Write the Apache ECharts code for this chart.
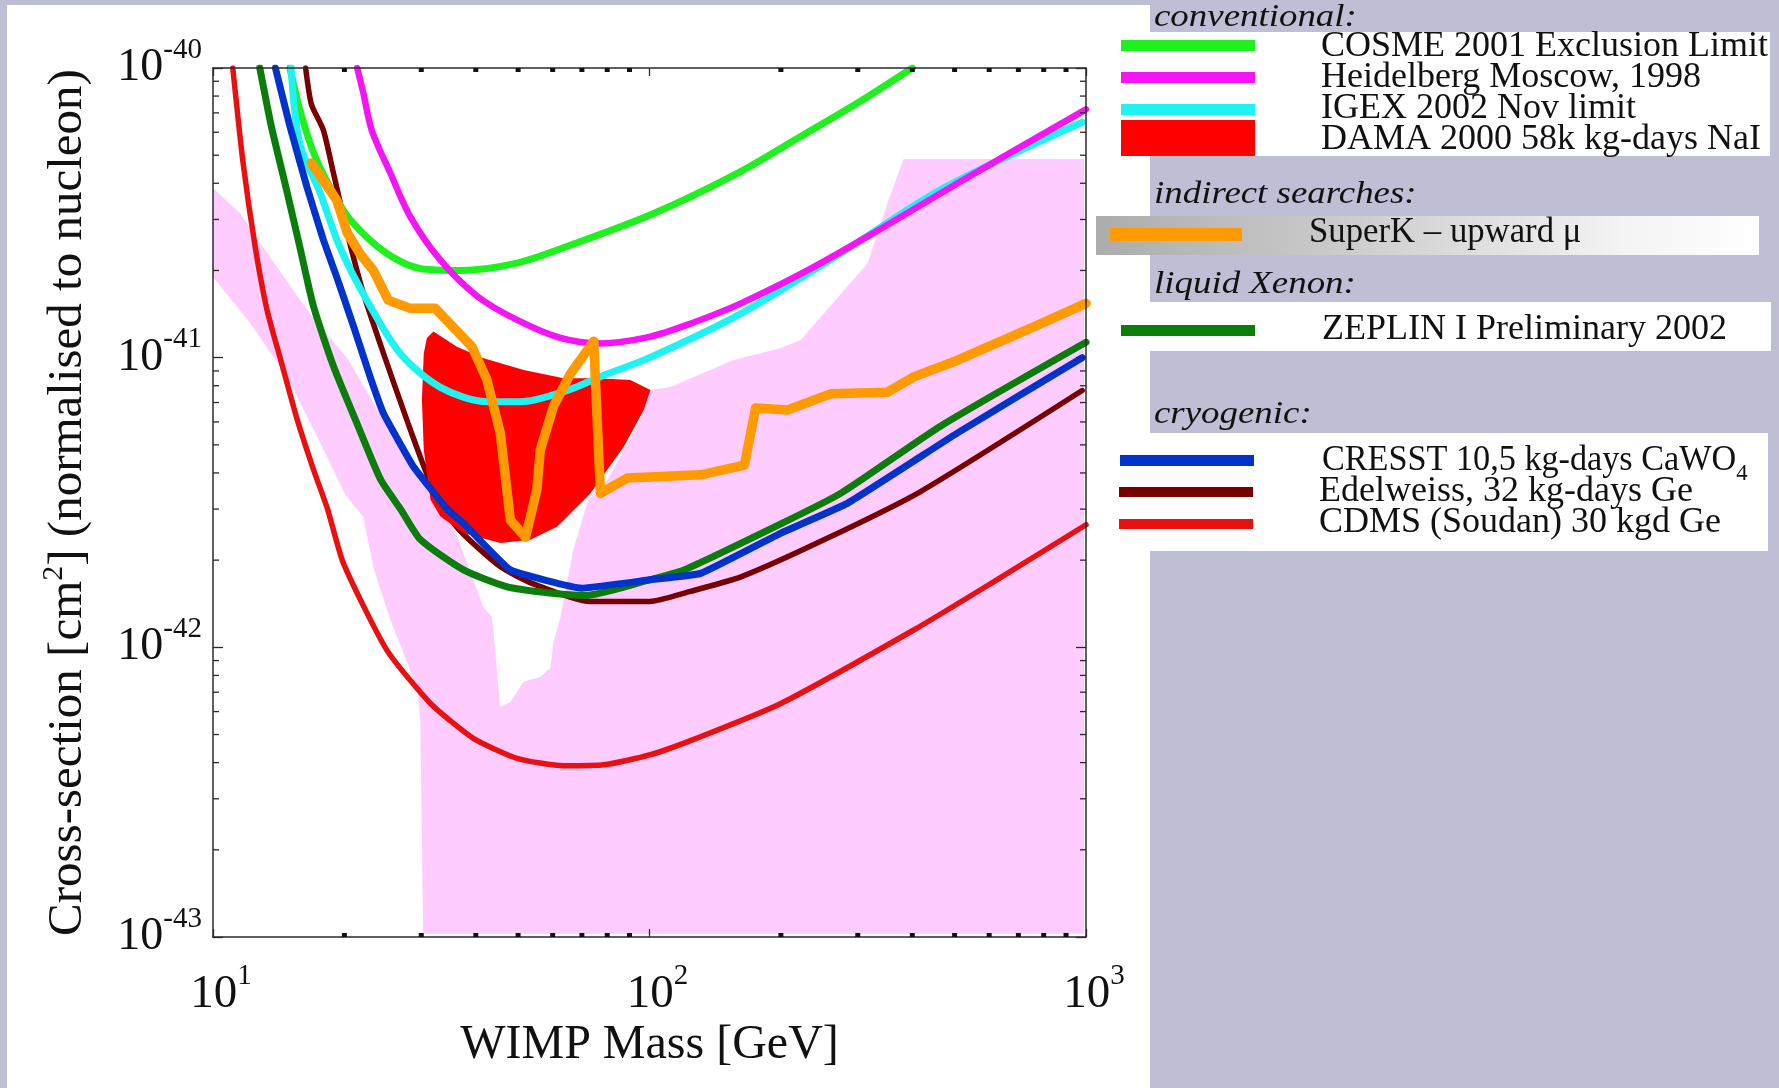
<!DOCTYPE html>
<html><head><meta charset="utf-8">
<script src="https://cdn.jsdelivr.net/npm/echarts@6/dist/echarts.min.js"></script>
<style>html,body{margin:0;padding:0;background:#bebed4;}#c{width:1779px;height:1088px;}</style>
</head><body><div id="c"></div>
<script>
const FONT = '"Liberation Serif", "Times New Roman", serif';

// axis ranges / ticks
const massRange = [10, 1000];
const sigmaRange = [1e-43, 1e-40];
const massMinorTicks = [20,30,40,50,60,70,80,90,200,300,400,500,600,700,800,900];
const sigmaMinorTicks = [2e-43,3e-43,4e-43,5e-43,6e-43,7e-43,8e-43,9e-43,
  2e-42,3e-42,4e-42,5e-42,6e-42,7e-42,8e-42,9e-42,
  2e-41,3e-41,4e-41,5e-41,6e-41,7e-41,8e-41,9e-41];

// [WIMP mass GeV, cross-section cm^2]
const cosme = [[15,1e-40],[15.8,7.2e-41],[17,5.1e-41],[18.5,3.9e-41],[20.6,3.0e-41],[25,2.29e-41],[29.9,2.03e-41],[36.9,2.0e-41],[49.7,2.12e-41],[64.7,2.42e-41],[100,3.1e-41],[159,4.33e-41],[222,5.8e-41],[299,7.55e-41],[400,1e-40]];
const heidelberg = [[21.4,1e-40],[22.1,8.2e-41],[23.1,6.1e-41],[25.5,4.33e-41],[28.3,3.07e-41],[33.2,2.17e-41],[40.3,1.63e-41],[49.7,1.35e-41],[62.5,1.17e-41],[77,1.12e-41],[100,1.18e-41],[124,1.31e-41],[162,1.54e-41],[230,2.0e-41],[327,2.7e-41],[508,4.0e-41],[1000,7.2e-41]];
const igex = [[15.1,1e-40],[15.8,5.5e-41],[17.6,3.7e-41],[19.5,2.42e-41],[22.5,1.58e-41],[26.9,1.03e-41],[33.2,7.9e-42],[42.5,7.05e-42],[50.6,7.05e-42],[64.7,7.7e-42],[77.3,8.6e-42],[100,1.0e-41],[162,1.42e-41],[274,2.29e-41],[464,3.8e-41],[980,6.5e-41]];
const damaRegion = [[32.0,1.23e-41],[36.2,1.09e-41],[41.7,9.96e-42],[51.5,9.07e-42],[63.6,8.49e-42],[75.9,8.49e-42],[90.4,8.38e-42],[100.5,7.73e-42],[97,6.6e-42],[87.3,4.93e-42],[73.2,3.4e-42],[61.4,2.61e-42],[53.3,2.35e-42],[45.5,2.29e-42],[37.5,2.48e-42],[33.2,2.83e-42],[31.5,3.23e-42],[30.4,4.8e-42],[30.1,7.15e-42],[30.4,1.035e-41],[30.9,1.17e-41]];
const superK = [[16.8,4.7e-41],[18.5,3.8e-41],[19.2,3.5e-41],[20.3,2.7e-41],[21.7,2.29e-41],[23.3,2.0e-41],[25.2,1.58e-41],[28.3,1.48e-41],[32.3,1.48e-41],[39.2,1.09e-41],[42.4,8.4e-42],[45.5,5.5e-42],[48,2.75e-42],[52,2.4e-42],[55.2,3.5e-42],[56.2,4.8e-42],[60.3,6.8e-42],[65.9,8.8e-42],[74.5,1.14e-41],[77.2,3.4e-42],[88.9,3.84e-42],[131,3.94e-42],[165,4.26e-42],[175,6.7e-42],[207,6.6e-42],[260,7.5e-42],[351,7.6e-42],[404,8.6e-42],[508,9.8e-42],[761,1.28e-41],[1000,1.54e-41]];
const zeplin = [[12.8,1e-40],[13.6,6.3e-41],[14.8,3.7e-41],[15.8,2.42e-41],[17.0,1.5e-41],[18.9,9.3e-42],[21.4,5.9e-42],[24.2,3.8e-42],[26.9,3.0e-42],[29.9,2.35e-42],[37.5,1.85e-42],[47,1.62e-42],[59,1.54e-42],[71,1.51e-42],[100,1.71e-42],[120,1.85e-42],[193,2.6e-42],[274,3.4e-42],[464,5.8e-42],[1000,1.13e-41]];
const cresst = [[13.9,1e-40],[15,6.3e-41],[16.4,3.9e-41],[17.9,2.55e-41],[19.2,1.9e-41],[21,1.28e-41],[22.9,8.6e-42],[24.6,6.4e-42],[28.8,4.2e-42],[34.4,3.0e-42],[37.5,2.68e-42],[48,1.85e-42],[70,1.6e-42],[100,1.71e-42],[131,1.8e-42],[200,2.48e-42],[284,3.14e-42],[508,5.5e-42],[980,1.0e-41]];
const edelweiss = [[16.3,1e-40],[16.8,7.5e-41],[17.9,6.1e-41],[18.9,4.3e-41],[20.3,2.7e-41],[22.1,1.67e-41],[24.6,1.03e-41],[27.8,6.1e-42],[31.5,3.7e-42],[36.2,2.6e-42],[45.5,1.9e-42],[54,1.66e-42],[73,1.44e-42],[100,1.44e-42],[124,1.56e-42],[162,1.75e-42],[251,2.35e-42],[418,3.45e-42],[980,7.7e-42]];
const cdms = [[11.1,1.0e-40],[11.7,4.8e-41],[12.5,2.4e-41],[13.3,1.46e-41],[14.3,9.8e-42],[15.6,6.1e-42],[17.0,4.1e-42],[18.3,3.0e-42],[19.9,1.95e-42],[25.0,9.8e-43],[31.5,6.4e-43],[39.5,4.85e-43],[49.7,4.14e-43],[63.6,3.9e-43],[78.5,3.93e-43],[100,4.25e-43],[128,4.85e-43],[200,6.4e-43],[404,1.15e-42],[605,1.66e-42],[1000,2.65e-42]];
const pinkRegion = [[10,3.85e-41],[11.53,3.16e-41],[13.3,2.3e-41],[15.83,1.58e-41],[17.6,1.276e-41],[20.3,1.0e-41],[22.6,7.55e-42],[25.1,5.77e-42],[28.7,4.43e-42],[33.2,3.23e-42],[36.3,2.4e-42],[41.6,1.38e-42],[43.6,1.27e-42],[45.5,6.23e-43],[48,6.48e-43],[51.4,7.6e-43],[56.2,7.9e-43],[59.3,8.49e-43],[60.2,1.035e-42],[62.5,1.27e-42],[66.9,2.17e-42],[72.4,3.23e-42],[80.1,3.78e-42],[95.3,6.1e-42],[100.5,7.73e-42],[111.7,7.92e-42],[155.8,9.82e-42],[200,1.08e-41],[222,1.15e-41],[316,2.12e-41],[353,3.5e-41],[382,4.85e-41],[990,4.85e-41],[990,1.026e-43],[30.3,1.026e-43],[29.85,5.48e-43],[29.5,6.96e-43],[27.9,8.83e-43],[25.5,1.24e-42],[23.3,1.89e-42],[22.1,2.82e-42],[20.1,3.36e-42],[17.6,5.08e-42],[14.8,8.58e-42],[12.16,1.318e-41],[10,1.9e-41]];

// legend texts
const headConventional = 'conventional:';
const headIndirect = 'indirect searches:';
const headXenon = 'liquid Xenon:';
const headCryo = 'cryogenic:';
const names = {
  cosme: 'COSME 2001 Exclusion Limit',
  hm: 'Heidelberg Moscow, 1998',
  igex: 'IGEX 2002 Nov limit',
  dama: 'DAMA 2000 58k kg-days NaI',
  superk: 'SuperK \u2013 upward \u03bc',
  zeplin: 'ZEPLIN I Preliminary 2002',
  cresst: 'CRESST 10,5 kg-days CaWO4',
  edel: 'Edelweiss, 32 kg-days Ge',
  cdms: 'CDMS (Soudan) 30 kgd Ge'
};
const colors = {
  cosme:'#1ff01f', hm:'#f514f5', igex:'#1ff2f2', dama:'#ff0000', superk:'#ff9a00',
  zeplin:'#0a7d0a', cresst:'#0033cc', edel:'#780000', cdms:'#e81010', pink:'#ffccff'
};

// the y axis works in units of 1e-43 cm^2 (avoids float rounding of tiny tick values)
const UNIT_EXP = -43;
const UNIT = Math.pow(10, UNIT_EXP);
const toUnit = pts => pts.map(p => [p[0], p[1] / UNIT]);
const yRange = [sigmaRange[0] / UNIT, sigmaRange[1] / UNIT];

const chart = echarts.init(document.getElementById('c'), null, {renderer:'canvas'});

function lineSeries(name, data, color, width, z, smooth) {
  return {type:'line', name, data: toUnit(data), symbol:'none', showSymbol:false, smooth: smooth, clip:true, z,
    silent:true, animation:false, lineStyle:{color, width, join:'round', cap:'round'}, itemStyle:{color}};
}
function polySeries(name, poly, color, z) {
  const pts = toUnit(poly);
  return {type:'custom', name, data:[[100,10]], z, silent:true, animation:false, clip:true,
    renderItem:(params, api) => ({type:'polygon', shape:{points: pts.map(p => api.coord(p))}, style:{fill:color}})};
}
const supRich = {
  b:{fontFamily:FONT, fontSize:46, lineHeight:46, color:'#111'},
  bx:{fontFamily:FONT, fontSize:47, lineHeight:47, color:'#111', padding:[0,0,0,16]},
  s:{fontFamily:FONT, fontSize:29, lineHeight:29, color:'#111', padding:[0,0,36,0]}
};

const axisBase = {
  type:'log', logBase:10, z:20,
  axisLine:{show:true, onZero:false, lineStyle:{color:'#2a2a2a', width:1.5}},
  splitLine:{show:false}, minorTick:{show:false}, minorSplitLine:{show:false}
};

const tickSeries = {
  type:'custom', name:'ticks', data:[[100,10]], z:30, silent:true, animation:false,
  renderItem:(params, api) => {
    const ch = [];
    const bl = api.coord([massRange[0], yRange[0]]);
    const tr = api.coord([massRange[1], yRange[1]]);
    massMinorTicks.forEach(v => {
      const x = api.coord([v, yRange[0]])[0];
      ch.push({type:'rect', shape:{x:x-2.5, y:bl[1]-4, width:5, height:4}, style:{fill:'#111'}});
      ch.push({type:'rect', shape:{x:x-2.5, y:tr[1], width:5, height:4}, style:{fill:'#111'}});
    });
    sigmaMinorTicks.forEach(v => {
      const y = api.coord([massRange[0], v / UNIT])[1];
      ch.push({type:'line', shape:{x1:bl[0], y1:y, x2:bl[0]+6, y2:y}, style:{stroke:'#2a2a2a', lineWidth:1.3}});
      ch.push({type:'line', shape:{x1:tr[0], y1:y, x2:tr[0]-6, y2:y}, style:{stroke:'#2a2a2a', lineWidth:1.3}});
    });
    return {type:'group', children:ch};
  }
};

// legend graphics
const G = [];
G.push({type:'rect', shape:{x:7, y:5, width:1143, height:1083}, style:{fill:'#ffffff'}, z:-100, silent:true});
G.push({type:'rect', shape:{x:1150, y:32, width:620, height:124}, style:{fill:'#ffffff'}, z:-99, silent:true});
G.push({type:'rect', shape:{x:1096, y:216, width:663, height:39}, z:-99, silent:true,
  style:{fill:{type:'linear', x:0, y:0, x2:1, y2:0, colorStops:[{offset:0,color:'#acacac'},{offset:0.35,color:'#c9c9c9'},{offset:0.8,color:'#f4f4f4'},{offset:1,color:'#ffffff'}]}}});
G.push({type:'rect', shape:{x:1150, y:302, width:621, height:49}, style:{fill:'#ffffff'}, z:-99, silent:true});
G.push({type:'rect', shape:{x:1150, y:433, width:618, height:118}, style:{fill:'#ffffff'}, z:-99, silent:true});
function head(text, y){
  G.push({type:'text', x:1154, y, scaleX:1.19, z:50, silent:true,
    style:{text, fontFamily:FONT, fontStyle:'italic', fontSize:31, fill:'#111', align:'left', verticalAlign:'middle'}});
}
function swatch(x, y, w, h, color){
  G.push({type:'rect', shape:{x, y, width:w, height:h}, style:{fill:color}, z:50, silent:true});
}
function label(text, x, y, rich, sx){
  const st = {text, fontFamily:FONT, fontSize:36, fill:'#111', align:'left', verticalAlign:'middle'};
  if (rich) st.rich = rich;
  G.push({type:'text', x, y, scaleX: sx || 1, z:50, silent:true, style:st});
}
head(headConventional, 17.5);
swatch(1121, 40, 134, 11, colors.cosme); label(names.cosme, 1321, 47);
swatch(1121, 72, 134, 11, colors.hm); label(names.hm, 1321, 78);
swatch(1121, 104, 134, 11, colors.igex); label(names.igex, 1321, 108.5);
swatch(1121, 120, 134, 36, colors.dama); label(names.dama, 1321, 140);
head(headIndirect, 194.5);
swatch(1110, 228, 132, 13, colors.superk); label(names.superk, 1309, 233, null, 0.965);
head(headXenon, 284.5);
swatch(1121, 325, 134, 11, colors.zeplin); label(names.zeplin, 1322, 330);
head(headCryo, 414.5);
swatch(1120, 455, 134, 11, colors.cresst);
label('{m|CRESST 10,5 kg-days CaWO}{u|4}', 1322, 461, {
  m:{fontFamily:FONT, fontSize:36, lineHeight:36, fill:'#111'},
  u:{fontFamily:FONT, fontSize:24, lineHeight:24, fill:'#111', padding:[26,0,0,0]}}, 0.95);
swatch(1119, 487, 134, 10, colors.edel); label(names.edel, 1319, 492);
swatch(1119, 519, 134, 10, colors.cdms); label(names.cdms, 1319, 523);

const option = {
  backgroundColor:'#bebed4',
  animation:false,
  grid:{left:213, top:68, width:873, height:869, containLabel:false, outerBoundsMode:'none', show:false},
  xAxis:[
    Object.assign({}, axisBase, {position:'bottom', min:massRange[0], max:massRange[1],
      name:'WIMP Mass [GeV]', nameLocation:'middle', nameGap:84, nameMoveOverlap:false,
      nameTextStyle:{fontFamily:FONT, fontSize:48, color:'#111', lineHeight:48},
      axisTick:{show:true, inside:true, length:8, lineStyle:{color:'#2a2a2a', width:1.3}},
      axisLabel:{show:true, margin:34, showMinLabel:true, showMaxLabel:true,
        formatter:v => '{bx|10}{s|' + Math.round(Math.log10(v)) + '}', rich:supRich}}),
    Object.assign({}, axisBase, {position:'top', min:massRange[0], max:massRange[1],
      axisTick:{show:true, inside:true, length:8, lineStyle:{color:'#2a2a2a', width:1.3}},
      axisLabel:{show:false}})
  ],
  yAxis:[
    Object.assign({}, axisBase, {position:'left', min:yRange[0], max:yRange[1],
      name:'Cross-section [cm{sup|2}] (normalised to nucleon)', nameLocation:'middle', nameGap:120, nameRotate:90,
      nameMoveOverlap:false,
      nameTextStyle:{fontFamily:FONT, fontSize:49, color:'#111', lineHeight:49,
        rich:{sup:{fontFamily:FONT, fontSize:30, lineHeight:30, color:'#111', padding:[0,0,28,0]}}},
      axisTick:{show:true, inside:true, length:10, lineStyle:{color:'#2a2a2a', width:1.3}},
      axisLabel:{show:true, margin:11, showMinLabel:true, showMaxLabel:true,
        formatter:v => '{b|10}{s|' + (Math.round(Math.log10(v)) + UNIT_EXP) + '}', rich:supRich}}),
    Object.assign({}, axisBase, {position:'right', min:yRange[0], max:yRange[1],
      axisTick:{show:true, inside:true, length:10, lineStyle:{color:'#2a2a2a', width:1.3}},
      axisLabel:{show:false}})
  ],
  graphic:{elements:G},
  series:[
    polySeries('pink region', pinkRegion, colors.pink, 1),
    lineSeries(names.edel, edelweiss, colors.edel, 5.5, 2, 0.2),
    polySeries(names.dama, damaRegion, colors.dama, 3),
    lineSeries(names.cosme, cosme, colors.cosme, 7, 4, 0.3),
    lineSeries(names.igex, igex, colors.igex, 7, 5, 0.3),
    lineSeries(names.hm, heidelberg, colors.hm, 6.5, 6, 0.3),
    lineSeries(names.cdms, cdms, colors.cdms, 5.5, 7, 0.2),
    lineSeries(names.zeplin, zeplin, colors.zeplin, 7, 8, 0.2),
    lineSeries(names.cresst, cresst, colors.cresst, 7, 9, 0.1),
    lineSeries(names.superk, superK, colors.superk, 9.5, 10, false),
    tickSeries
  ]
};
chart.setOption(option);
</script>
</body></html>
